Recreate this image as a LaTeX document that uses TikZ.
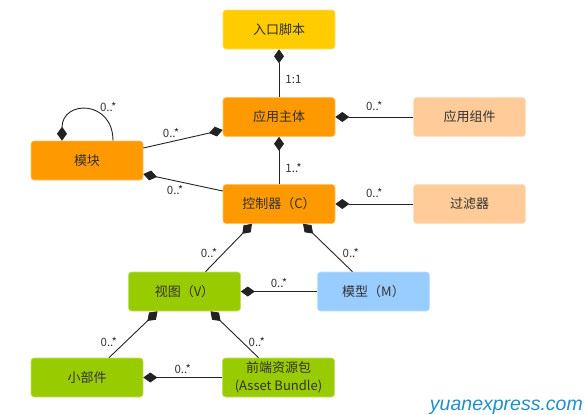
\documentclass[tikz,border=0pt]{standalone}
\usepackage{fontspec}
\setmainfont{Noto Sans CJK SC}
\newfontfamily\wmfont{Liberation Sans}
\usetikzlibrary{arrows.meta}

\definecolor{txtgray}{HTML}{333333}
\definecolor{linegray}{HTML}{222222}
\definecolor{entryyellow}{HTML}{FFCC00}
\definecolor{mainorange}{HTML}{FF9900}
\definecolor{lightpeach}{HTML}{FFCC99}
\definecolor{viewgreen}{HTML}{99CC00}
\definecolor{modelblue}{HTML}{99CCFF}
\definecolor{wmblue}{HTML}{1F8FC6}

\tikzset{
  box/.style={rectangle, rounded corners=3pt, minimum width=112pt, minimum height=39pt,
    inner sep=0pt, text=txtgray, align=center, font=\fontsize{13}{18}\selectfont},
  boxof/.style={box, fill=#1, draw=#1!60!white, line width=0.6pt},
  comp/.style={draw=linegray, line width=0.9pt, {Diamond[length=14pt,width=10pt]}-},
  mult/.style={font=\fontsize{11.5}{13}\selectfont, text=txtgray, inner sep=1pt}
}

\begin{document}
\begin{tikzpicture}[x=1pt,y=-1pt]
  \useasboundingbox (0,0) rectangle (587,415);

  % boxes
  \node[boxof=entryyellow] (entry) at (279,29.5) {入口脚本};
  \node[boxof=mainorange] (app) at (279,117) {应用主体};
  \node[boxof=lightpeach] (appcomp) at (469.5,117) {应用组件};
  \node[boxof=mainorange] (ctrl) at (279,204) {控制器（C）};
  \node[boxof=lightpeach] (filter) at (469.5,204) {过滤器};
  \node[boxof=mainorange] (mod) at (87,160.5) {模块};
  \node[boxof=viewgreen] (view) at (184.5,291.5) {视图（V）};
  \node[boxof=modelblue] (model) at (373.5,291.5) {模型（M）};
  \node[boxof=viewgreen] (widget) at (87,377.5) {小部件};
  \node[boxof=viewgreen] (bundle) at (278.5,377.5) {前端资源包\\(Asset Bundle)};

  % loop ends on the module box
  \coordinate (loopA) at ([xshift=-25pt]mod.north);
  \coordinate (loopB) at ([xshift=26pt]mod.north);

  % connectors
  \draw[comp] (entry) -- (app) node[mult, pos=0.63, right=5pt] {1:1};
  \draw[comp] (app) -- (appcomp) node[mult, midway, above=5pt] {0..*};
  \draw[comp] (app) -- (ctrl) node[mult, pos=0.65, right=5pt] {1..*};
  \draw[comp] (ctrl) -- (filter) node[mult, midway, above=5pt] {0..*};
  \draw[comp] ([yshift=-13pt]app.west) -- ([yshift=12.5pt]mod.east) node[mult, pos=0.65, above=3pt] {0..*};
  \draw[comp] ([yshift=-13.5pt]mod.east) -- ([yshift=13pt]ctrl.west) node[mult, pos=0.4, below=3pt] {0..*};
  \draw[comp] (loopA) .. controls +(0,-41) and +(0,-41) .. (loopB) node[mult, pos=0.65, above right=0pt] {0..*};

  \draw[comp] ([xshift=-27pt]ctrl.south) -- ([xshift=21pt]view.north) node[mult, pos=0.61, left=5pt] {0..*};
  \draw[comp] ([xshift=24pt]ctrl.south) -- ([xshift=-21pt]model.north) node[mult, pos=0.61, right=8pt] {0..*};
  \draw[comp] (view) -- (model) node[mult, midway, above=2pt] {0..*};
  \draw[comp] ([xshift=-27pt]view.south) -- ([xshift=22pt]widget.north) node[mult, pos=0.66, left=7pt] {0..*};
  \draw[comp] ([xshift=26pt]view.south) -- ([xshift=-20pt]bundle.north) node[mult, pos=0.66, right=5pt] {0..*};
  \draw[comp] (widget) -- (bundle) node[mult, midway, above=2pt] {0..*};

  % watermark
  \node[anchor=base east, inner sep=0pt, text=wmblue, font=\wmfont\itshape\fontsize{19.5}{22}\selectfont] (wm) at (583,410) {yuanexpress.com};
\end{tikzpicture}
\end{document}
